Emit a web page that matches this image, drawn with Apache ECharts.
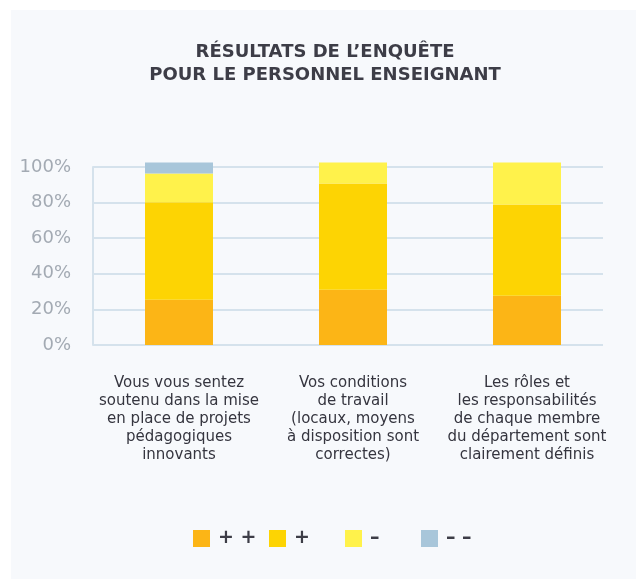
<!DOCTYPE html>
<html>
<head>
<meta charset="utf-8">
<script src="https://cdn.jsdelivr.net/npm/echarts@6/dist/echarts.min.js"></script>
<style>
html,body{margin:0;padding:0;background:#ffffff;}
#chart{width:636px;height:579px;}
</style>
</head>
<body>
<div id="chart"></div>
<script>
const categories = [
  "Vous vous sentez\nsoutenu dans la mise\nen place de projets\npédagogiques\ninnovants",
  "Vos conditions\nde travail\n(locaux, moyens\nà disposition sont\ncorrectes)",
  "Les rôles et\nles responsabilités\nde chaque membre\ndu département sont\nclairement définis"
];
const seriesNames = ["+ +", "+", "–", "– –"];
const valuesPlusPlus = [25.4, 31.0, 27.6];
const valuesPlus = [54.8, 59.7, 51.3];
const valuesMinus = [16.1, 11.8, 23.6];
const valuesMinusMinus = [6.2, 0, 0];
const yTicks = [0, 20, 40, 60, 80, 100];
const colors = ["#fcb516", "#fdd403", "#fff24b", "#a8c6da"];

const font = "DejaVu Sans";
const chart = echarts.init(document.getElementById('chart'), null, {renderer: 'canvas'});
const allValues = [valuesPlusPlus, valuesPlus, valuesMinus, valuesMinusMinus];
const legendLefts = [193, 269, 345, 421];

chart.setOption({
  animation: false,
  graphic: [{
    type: 'rect', z: -10, silent: true,
    shape: {x: 11, y: 10, width: 625, height: 569},
    style: {fill: '#f7f9fc'}
  }],
  title: {
    text: "RÉSULTATS DE L’ENQUÊTE\nPOUR LE PERSONNEL ENSEIGNANT",
    left: 320, top: 36, textAlign: 'center',
    textStyle: {fontFamily: font, fontSize: 18, fontWeight: 'bold', color: '#3d3d47', lineHeight: 23}
  },
  legend: seriesNames.map((name, i) => ({
    data: [name],
    left: legendLefts[i], top: 529, padding: 0,
    itemWidth: 17, itemHeight: 17,
    icon: 'rect',
    textStyle: {fontFamily: font, fontSize: 19, fontWeight: 'bold', color: '#3d3d47', padding: [0,0,0,3]}
  })),
  grid: [
    {left: 93, right: 33, top: 167, bottom: 234},
    {left: 92, width: 522, top: 167, bottom: 234}
  ],
  xAxis: [
    {gridIndex: 0, type: 'category', data: categories, show: false},
    {gridIndex: 1, type: 'category', data: categories,
     axisLine: {show: false}, axisTick: {show: false},
     axisLabel: {interval: 0, margin: 29, fontFamily: font, fontSize: 15, color: '#35353f', lineHeight: 18, align: 'center'}}
  ],
  yAxis: [
    {gridIndex: 0, type: 'value', min: 0, max: 100, interval: 20,
     axisLine: {show: true, lineStyle: {color: '#d5e2ec', width: 2}},
     axisTick: {show: false},
     splitLine: {lineStyle: {color: '#d5e2ec', width: 2}},
     axisLabel: {margin: 22, fontFamily: font, fontSize: 18, color: '#a3aab3', formatter: v => v + '%',
       customValues: yTicks}},
    {gridIndex: 1, type: 'value', min: 0, max: 100, show: false, splitLine: {show: false}}
  ],
  series: seriesNames.map((name, i) => ({
    name: name, type: 'bar', stack: 'total',
    xAxisIndex: 1, yAxisIndex: 1,
    barWidth: 68, clip: false,
    itemStyle: {color: colors[i]},
    data: allValues[i]
  }))
});
</script>
</body>
</html>
